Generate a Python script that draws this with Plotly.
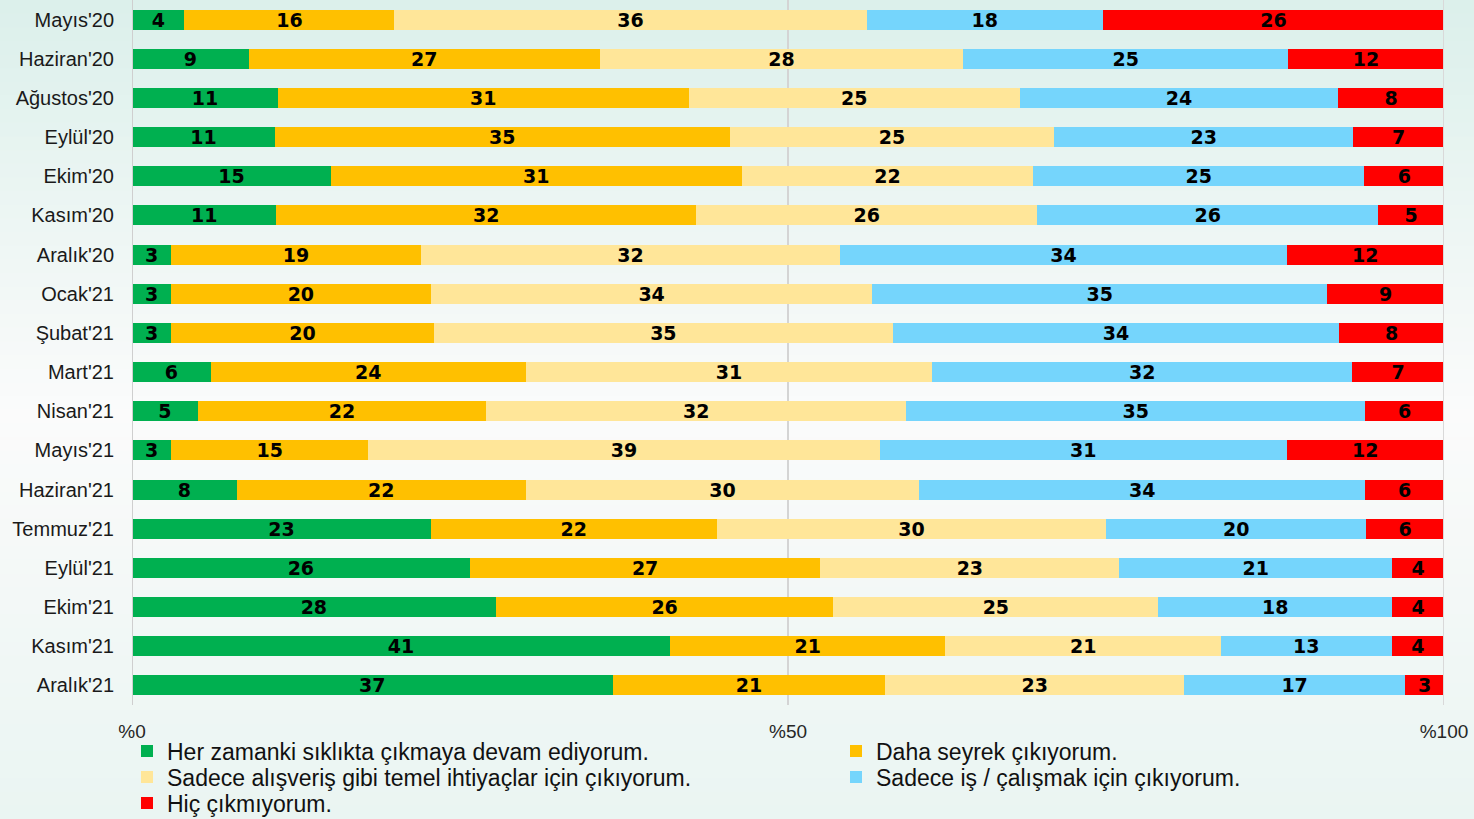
import plotly.graph_objects as go

# Aylar (yukaridan asagiya)
aylar = ["Mayıs'20", "Haziran'20", "Ağustos'20", "Eylül'20", "Ekim'20", "Kasım'20",
         "Aralık'20", "Ocak'21", "Şubat'21", "Mart'21", "Nisan'21", "Mayıs'21",
         "Haziran'21", "Temmuz'21", "Eylül'21", "Ekim'21", "Kasım'21", "Aralık'21"]

her_zamanki = [4, 9, 11, 11, 15, 11, 3, 3, 3, 6, 5, 3, 8, 23, 26, 28, 41, 37]
daha_seyrek = [16, 27, 31, 35, 31, 32, 19, 20, 20, 24, 22, 15, 22, 22, 27, 26, 21, 21]
temel_ihtiyac = [36, 28, 25, 25, 22, 26, 32, 34, 35, 31, 32, 39, 30, 30, 23, 25, 21, 23]
sadece_is = [18, 25, 24, 23, 25, 26, 34, 35, 34, 32, 35, 31, 34, 20, 21, 18, 13, 17]
hic = [26, 12, 8, 7, 6, 5, 12, 9, 8, 7, 6, 12, 6, 6, 4, 4, 4, 3]

x_tick_vals = [0, 50, 100]
x_tick_text = ["%0", "%50", "%100"]

# (ad, degerler, renk, lejant, lejant konumu px: sol x, orta y)
seriler = [
    ("Her zamanki sıklıkta çıkmaya devam ediyorum.", her_zamanki, "#00b050", "legend", (127, 751)),
    ("Daha seyrek çıkıyorum.", daha_seyrek, "#ffc000", "legend2", (836, 751)),
    ("Sadece alışveriş gibi temel ihtiyaçlar için çıkıyorum.", temel_ihtiyac, "#ffe699", "legend3", (127, 777)),
    ("Sadece iş / çalışmak için çıkıyorum.", sadece_is, "#75d5fc", "legend4", (836, 777)),
    ("Hiç çıkmıyorum.", hic, "#ff0000", "legend5", (127, 803)),
]

W, H = 1474, 819
ML, MR, MT, MB = 132, 30, 0, 114

fig = go.Figure()
for ad, degerler, renk, lg, _ in seriler:
    fig.add_trace(go.Bar(
        y=aylar, x=degerler, name=ad, orientation='h',
        marker=dict(color=renk, line=dict(width=0)),
        text=degerler, textposition='inside', insidetextanchor='middle',
        textangle=0, constraintext='none',
        textfont=dict(family="Arial Black, DejaVu Sans", size=19, color="black", weight="bold"),
        legend=lg, hoverinfo='skip',
    ))

# arka plan gecisi (ust nane -> orta beyaz -> alt acik nane)
def _karistir(c1, c2, t):
    return tuple(round(a + (b - a) * t) for a, b in zip(c1, c2))

ust, orta, alt = (220, 240, 235), (251, 251, 251), (234, 245, 242)
pw, ph = W - ML - MR, H - MT - MB
n = 60
shapes = []
for i in range(n):
    f = i / (n - 1)  # 0 = ust, 1 = alt
    if f < 0.5:
        c = _karistir(ust, orta, f / 0.5)
    else:
        c = _karistir(orta, alt, (f - 0.5) / 0.5)
    y_top_px = H * i / n
    y_bot_px = H * (i + 1) / n + 1
    shapes.append(dict(
        type='rect', xref='paper', yref='paper', layer='below',
        x0=-ML / pw, x1=1 + MR / pw,
        y0=1 - (y_bot_px - MT) / ph, y1=1 - (y_top_px - MT) / ph,
        fillcolor=f"rgb{c}", line=dict(width=0),
    ))

lejant_font = dict(family="Liberation Sans, Arial, sans-serif", size=23, color="#111")
lejantlar = {}
for _, _, _, lg, (lx, ly) in seriler:
    lejantlar[lg] = dict(
        orientation='v', xref='container', yref='container',
        x=lx / W, y=1 - ly / H, xanchor='left', yanchor='middle',
        bgcolor="rgba(0,0,0,0)", itemwidth=30, borderwidth=0,
        font=lejant_font,
    )

fig.update_layout(
    width=W, height=H,
    barmode='stack', barnorm='percent', bargap=0.49,
    paper_bgcolor="rgba(0,0,0,0)", plot_bgcolor="rgba(0,0,0,0)",
    margin=dict(l=ML, r=MR, t=MT, b=MB, autoexpand=False),
    shapes=shapes,
    font=dict(family="Liberation Sans, Arial, sans-serif", color="#1a1a1a"),
    xaxis=dict(
        range=[0, 100], tickvals=x_tick_vals, ticktext=x_tick_text, tickangle=0,
        showgrid=True, gridcolor="#d4d4d4", gridwidth=2, zeroline=False,
        ticks="outside", ticklen=4, tickcolor="rgba(0,0,0,0)",
        ticklabelstandoff=5, automargin=False,
        tickfont=dict(size=19, color="#262626"), fixedrange=True,
    ),
    yaxis=dict(
        autorange='reversed', showgrid=False, zeroline=False,
        tickfont=dict(size=20, color="#1a1a1a"), ticklabelstandoff=17,
        fixedrange=True, automargin=False,
    ),
    showlegend=True,
    **lejantlar,
)

# sol ve sag dikey cizgiler
fig.add_vline(x=0, line_color="#cfcfcf", line_width=2)
fig.add_vline(x=100, line_color="#d9d9d9", line_width=2)

fig.write_html("out.html", config={"displayModeBar": False},
               post_script="document.body.style.margin='0px';")
